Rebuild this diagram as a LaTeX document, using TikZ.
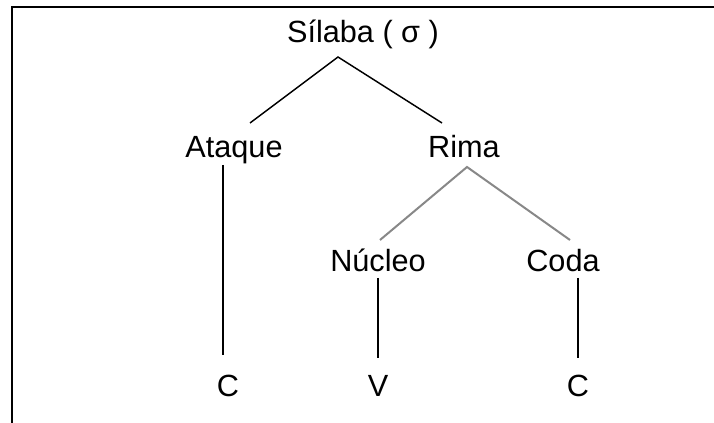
\documentclass[tikz,border=0pt]{standalone}
\usepackage{fontspec}
\setmainfont{Liberation Sans}
\usepackage{tikz}
\usepackage{xcolor}
\definecolor{rimagray}{RGB}{136,136,136}

\begin{document}
\begin{tikzpicture}[x=0.75pt,y=-0.75pt,
    lbl/.style={inner sep=0pt,anchor=base,font=\fontsize{23}{27}\selectfont},
    branch/.style={line width=1.1pt,black},
    soft/.style={line width=1.5pt,rimagray}]
        \useasboundingbox (0,0) rectangle (714,423);

        % frame
        \draw[line width=1.5pt] (12,423) -- (12,7) -- (714,7);

        % labels
        \node[lbl] (silaba) at (363,43) {Sílaba ( σ )};
        \node[lbl] (ataque) at (234,158) {Ataque};
        \node[lbl] (rima) at (464,158) {Rima};
        \node[lbl] (nucleo) at (378,272) {Núcleo};
        \node[lbl] (coda) at (563,272) {Coda};
        \node[lbl] (c1) at (228,397) {C};
        \node[lbl] (v) at (378,397) {V};
        \node[lbl] (c2) at (578,397) {C};

        % syllable branches
        \draw[branch] ([shift={(16,-35)}]ataque.base) -- ([shift={(-25,14)}]silaba.base)
            -- ([shift={(-22,-35)}]rima.base);

        % rhyme branches
        \draw[soft] ([shift={(2,-32)}]nucleo.base) -- ([shift={(3,9)}]rima.base)
            -- ([shift={(7,-32)}]coda.base);

        % segments
        \draw[branch] ([shift={(-11,7)}]ataque.base) -- ([shift={(-5,-42)}]c1.base);
        \draw[branch] ([shift={(0,6)}]nucleo.base) -- ([shift={(0,-39)}]v.base);
        \draw[branch] ([shift={(15,6)}]coda.base) -- ([shift={(0,-39)}]c2.base);
    \end{tikzpicture}
\end{document}
